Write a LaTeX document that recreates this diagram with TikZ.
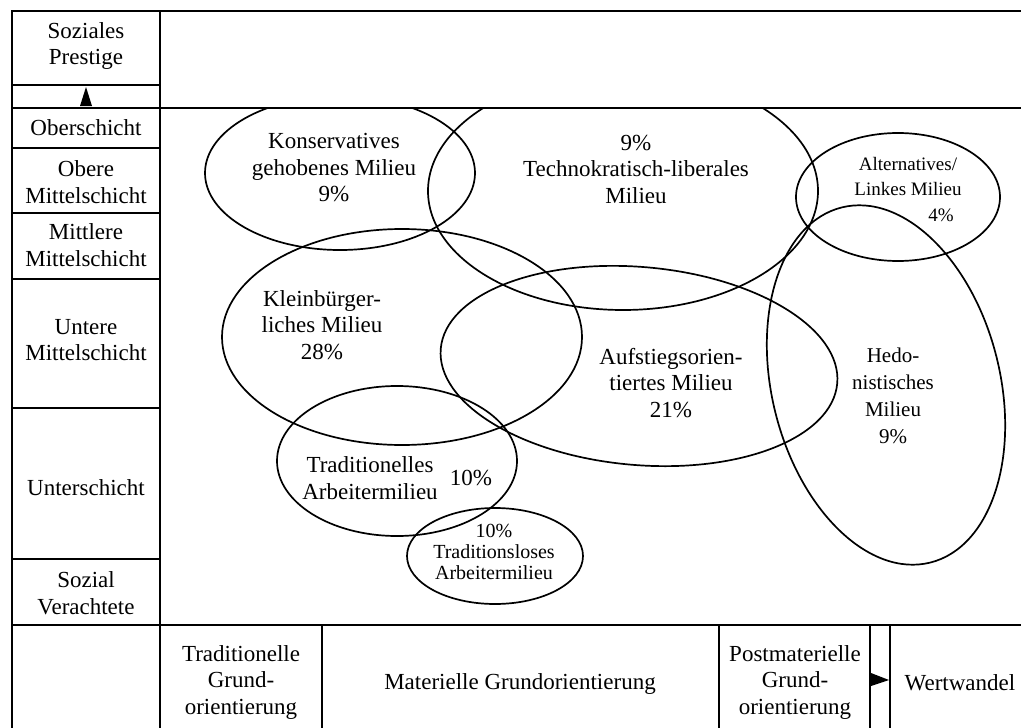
\documentclass[tikz,border=0pt]{standalone}
\usepackage{fontspec}
\setmainfont{Liberation Serif}
\usetikzlibrary{shapes.geometric}
\begin{document}
\begin{tikzpicture}[x=1pt,y=-1pt,
  frame/.style={line width=2pt},
  milieu/.style={draw, ellipse, line width=1.7pt, inner sep=0pt},
  lbl/.style={font=\fontsize{23}{26.5}\selectfont, align=center, inner sep=0pt},
]
\useasboundingbox (0,0) rectangle (1021,728);
\fill[white] (0,0) rectangle (1021,728);
% frame
\draw[frame] (1021,11) -- (12,11) -- (12,728);
\draw[frame] (160,11) -- (160,728);
\draw[frame] (12,85) -- (160,85);
\draw[frame] (12,108) -- (1021,108);
\draw[frame] (12,148) -- (160,148);
\draw[frame] (12,213) -- (160,213);
\draw[frame] (12,279) -- (160,279);
\draw[frame] (12,408) -- (160,408);
\draw[frame] (12,559) -- (160,559);
\draw[frame] (12,625) -- (1021,625);
\draw[frame] (322,625) -- (322,728);
\draw[frame] (719,625) -- (719,728);
\draw[frame] (870,625) -- (870,728);
\draw[frame] (890,625) -- (890,728);
% arrow markers
\fill (80,106) -- (86,87) -- (92,106) -- cycle;
\fill (871,673) -- (889,680) -- (871,686) -- cycle;
% left labels
\node[lbl] (prestige) at (86,46) {Soziales\\Prestige};
\node[lbl] (ober) at (86,128) {Oberschicht};
\node[lbl] (oberm) at (86,182) {Obere\\Mittelschicht};
\node[lbl] (mittm) at (86,245) {Mittlere\\Mittelschicht};
\node[lbl] (unterm) at (86,340) {Untere\\Mittelschicht};
\node[lbl] (unter) at (86,488) {Unterschicht};
\node[lbl] (verach) at (86,593) {Sozial\\Verachtete};
% bottom labels
\node[lbl] (tradg) at (241,682) {Traditionelle\\Grund-\\orientierung};
\node[lbl] (matg) at (520,684) {Materielle Grundorientierung};
\node[lbl] (postg) at (795,682) {Postmaterielle\\Grund-\\orientierung};
\node[lbl] (wert) at (960,683) {Wertwandel};
% milieus
\begin{scope}
\clip (160,108) rectangle (1021,625);
\node[milieu, minimum width=270pt, minimum height=154pt] (kons) at (340,173) {};
\node[milieu, minimum width=390pt, minimum height=238pt] (tech) at (623,191) {};
\node[milieu, minimum width=204pt, minimum height=128pt] (alt) at (898,197) {};
\node[milieu, minimum width=360pt, minimum height=216pt] (klein) at (402,337) {};
\node[milieu, minimum width=398pt, minimum height=198pt, rotate=-5] (aufst) at (639,366) {};
\node[milieu, minimum width=228pt, minimum height=366pt, rotate=14] (hedo) at (886,385) {};
\node[milieu, minimum width=240pt, minimum height=150pt] (trada) at (397,461) {};
\node[milieu, minimum width=176pt, minimum height=96pt] (tradl) at (495,556) {};
\end{scope}
% milieu texts
\node[lbl] (konsT) at (334,168) {Konservatives\\gehobenes Milieu\\9\%};
\node[lbl] (techT) at (636,169) {9\%\\Technokratisch-liberales\\Milieu};
\node[lbl, font=\fontsize{19}{25}\selectfont] (altT1) at (908,176) {Alternatives/\\Linkes Milieu};
\node[lbl, font=\fontsize{19}{25}\selectfont] (altT2) at (941,215) {4\%};
\node[lbl] (kleinT) at (322,325) {Kleinbürger-\\liches Milieu\\28\%};
\node[lbl] (aufstT) at (671,383) {Aufstiegsorien-\\tiertes Milieu\\21\%};
\node[lbl, font=\fontsize{21}{27}\selectfont] (hedoT) at (893,396) {Hedo-\\nistisches\\Milieu\\9\%};
\node[lbl] (tradaT) at (370,478) {Traditionelles\\Arbeitermilieu};
\node[lbl] (tradaP) at (471,478) {10\%};
\node[lbl, font=\fontsize{20}{21}\selectfont] (tradlT) at (494,552) {10\%\\Traditionsloses\\Arbeitermilieu};
\end{tikzpicture}
\end{document}
